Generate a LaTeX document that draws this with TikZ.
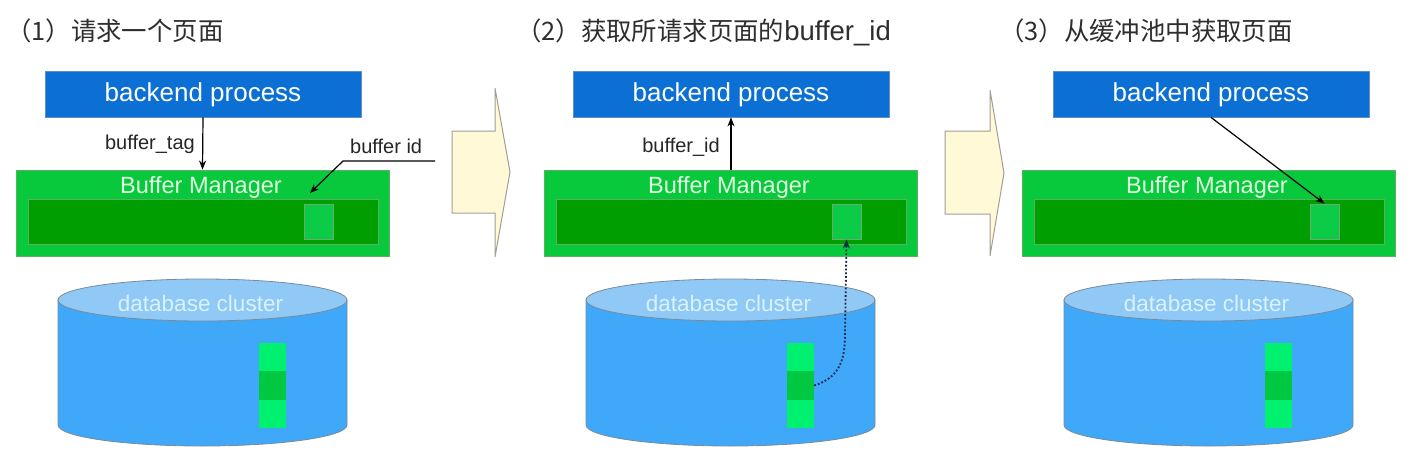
\documentclass[tikz,border=0pt]{standalone}
\usepackage{fontspec}
\setmainfont{Liberation Sans}
\newfontfamily\cjk{Noto Sans CJK SC}
\usetikzlibrary{arrows.meta,calc}
\definecolor{bpblue}{HTML}{0B6FD4}
\definecolor{bpedge}{HTML}{5E8FC8}
\definecolor{bmgreen}{HTML}{08C83C}
\definecolor{bmedge}{HTML}{5DB060}
\definecolor{bmdark}{HTML}{009E00}
\definecolor{slotgreen}{HTML}{0CCB46}
\definecolor{slotedge}{HTML}{6FA870}
\definecolor{cylbody}{HTML}{40A8F8}
\definecolor{cyltop}{HTML}{90C8F6}
\definecolor{cyledge}{HTML}{7C8A98}
\definecolor{pagelight}{HTML}{00F070}
\definecolor{pagemid}{HTML}{00C840}
\definecolor{arrowfill}{HTML}{FFF9D8}
\definecolor{arrowedge}{HTML}{A09E96}
\definecolor{titlegray}{HTML}{2E2E2E}
\definecolor{dotnavy}{HTML}{1A2A4A}
\tikzset{
  bpbox/.style={draw=bpedge, line width=0.8pt, fill=bpblue, minimum width=316pt, minimum height=46pt, inner sep=0pt},
  bmbox/.style={draw=bmedge, line width=0.8pt, fill=bmgreen, minimum width=373pt, minimum height=86pt, inner sep=0pt},
  innerbox/.style={draw=bmedge, line width=0.8pt, fill=bmdark, minimum width=350pt, minimum height=45pt, inner sep=0pt},
  slotbox/.style={draw=slotedge, line width=0.8pt, fill=slotgreen, minimum width=29pt, minimum height=35pt, inner sep=0pt},
  pagebox/.style={fill=#1, minimum width=27pt, minimum height=28.3pt, inner sep=0pt},
  bptext/.style={text=white, font=\fontsize{26}{28}\selectfont, inner sep=0pt, anchor=base},
  bmtext/.style={text=white!88!green, font=\fontsize{23.5}{26}\selectfont, inner sep=0pt, anchor=base},
  cltext/.style={text=white!85!cyan, font=\fontsize{22.5}{25}\selectfont, inner sep=0pt, anchor=base},
  lbl/.style={text=black!85, font=\fontsize{20}{22}\selectfont, inner sep=0pt, anchor=base},
  ttl/.style={text=titlegray, font=\cjk\fontsize{25.4}{28}\selectfont, inner sep=0pt, anchor=base west},
  conn/.style={line width=1.2pt, -{Stealth[length=9pt,width=7pt]}},
  bigarrow/.style={draw=arrowedge, line width=1pt, fill=arrowfill, line join=miter},
  cylbodys/.style={draw=cyledge, line width=0.8pt, fill=cylbody},
  cyltops/.style={draw=cyledge, line width=0.8pt, fill=cyltop},
}
\begin{document}
\begin{tikzpicture}[x=1pt, y=-1pt]
\useasboundingbox (0,0) rectangle (1412,466);
\fill[white] (0,0) rectangle (1412,466);

% titles
\node[ttl] (t1) at (6,40) {（1）请求一个页面};
\node[ttl] (t2) at (516,40) {（2）获取所请求页面的{\fontspec{Liberation Sans}\fontsize{27.5}{28}\selectfont buffer\_id}};
\node[ttl] (t3) at (999,40) {（3）从缓冲池中获取页面};

% big arrows
\draw[bigarrow] (452,131) -- (495,131) -- (495,88) -- (510,172) -- (495,257) -- (495,213) -- (452,213) -- cycle;
\draw[bigarrow] (945,131) -- (990,131) -- (990,90) -- (1004,173) -- (990,256) -- (990,214) -- (945,214) -- cycle;

\foreach \p/\dx/\bx in {1/0/0, 2/528/0, 3/1006/2} {
  \begin{scope}[xshift=\dx pt]
    % backend process
    \node[bpbox] (bp\p) at (203+\bx,94) {};
    \node[bptext] (bpt\p) at (203+\bx,101) {backend process};
    % buffer manager
    \node[bmbox] (bm\p) at (202.5,213) {};
    \node[bmtext] (bmt\p) at (201,193) {Buffer Manager};
    \node[innerbox] (in\p) at (203,221.5) {};
    \node[slotbox] (slot\p) at (318.5,221.5) {};
    % database cluster cylinder
    \path[cylbodys] (58,300) -- (58,425) arc[start angle=180, end angle=360, x radius=144.5pt, y radius=21pt] -- (347,300) -- cycle;
    \path[cyltops] (202.5,300) ellipse[x radius=144.5pt, y radius=21pt];
    \node[cltext] (cl\p) at (200.5,311) {database cluster};
    \node[pagebox=pagelight] (pga\p) at (272.5,357.2) {};
    \node[pagebox=pagemid] (pgb\p) at (272.5,385.5) {};
    \node[pagebox=pagelight] (pgc\p) at (272.5,413.8) {};
  \end{scope}
}

% panel 1 connectors
\draw[conn] (bp1.south) -- (bm1.north);
\node[lbl, anchor=base east] (lt1) at (195,149) {buffer\_tag};
\coordinate (bidstart) at (435,161);
\coordinate (bidend) at (310,193);
\draw[conn] (bidstart) -- (343,161) -- (bidend);
\node[lbl, anchor=base west] (lid1) at (350,153) {buffer id};

% panel 2 connectors
\draw[conn] (bm2.north -| 731,0) -- (bp2.south -| 731,0);
\node[lbl, anchor=base east] (lid2) at (720,152) {buffer\_id};
\draw[dotnavy, line width=1.8pt, dotted, -{Stealth[length=9pt,width=7pt]}] (pgb2.east) .. controls (838,378) and (845,362) .. (845,335) -- (slot2.south);

% panel 3 connector
\draw[conn] (bp3.south) -- (slot3.north);
\end{tikzpicture}
\end{document}
